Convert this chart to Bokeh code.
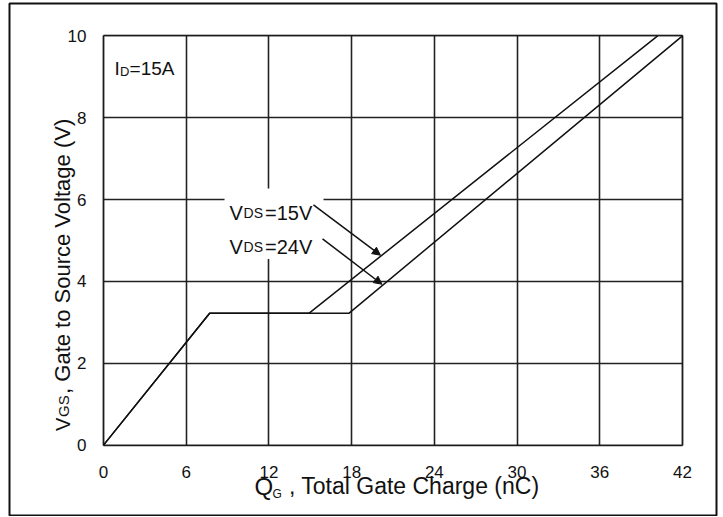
import math
from bokeh.plotting import figure
from bokeh.models import (Label, Arrow, NormalHead, BoxAnnotation, FixedTicker,
                          Range1d, Grid)
from bokeh.embed import file_html
from bokeh.resources import INLINE

# ---- data ----
q_15v = [0, 7.7, 14.9, 40.2]      # nC
vgs_15v = [0, 3.22, 3.22, 10]     # V
q_24v = [0, 7.7, 17.8, 42]        # nC
vgs_24v = [0, 3.22, 3.22, 10]     # V
x_ticks = [0, 6, 12, 18, 24, 30, 36, 42]
y_ticks = [0, 2, 4, 6, 8, 10]
x_lim = (0, 42)
y_lim = (0, 10)

FONT = "Liberation Sans"
INK = "#111111"

# the frame fills the whole picture; its outline is the outer border
p = figure(width=718, height=516, output_backend="svg", toolbar_location=None,
           x_range=Range1d(-6.82, 44.47), y_range=Range1d(-1.72, 10.79),
           min_border_left=9, min_border_right=2,
           min_border_top=3, min_border_bottom=1,
           background_fill_color="white", border_fill_color="white")

p.outline_line_color = INK
p.outline_line_width = 2

for ax in (p.xaxis, p.yaxis):
    ax.axis_line_color = None
    ax.major_tick_line_color = None
    ax.minor_tick_line_color = None
    ax.major_tick_in = 0
    ax.major_tick_out = 0
    ax.major_label_text_font = FONT
    ax.major_label_text_font_size = "17px"
    ax.major_label_text_color = INK
p.xaxis.ticker = FixedTicker(ticks=x_ticks)
p.yaxis.ticker = FixedTicker(ticks=y_ticks)
p.xaxis.fixed_location = y_lim[0]
p.yaxis.fixed_location = x_lim[0]
p.xaxis.bounds = x_lim
p.yaxis.bounds = y_lim
p.xaxis.major_label_standoff = 21
p.yaxis.major_label_standoff = 17

grid_ok = "cross_bounds" in Grid.properties()
if grid_ok:
    p.xgrid.ticker = FixedTicker(ticks=x_ticks)
    p.ygrid.ticker = FixedTicker(ticks=y_ticks)
    p.xgrid.bounds = x_lim
    p.ygrid.bounds = y_lim
    p.xgrid.cross_bounds = y_lim
    p.ygrid.cross_bounds = x_lim
    for g in (p.xgrid, p.ygrid):
        g.grid_line_color = "#222222"
        g.grid_line_width = 1.6
    # white patch behind the V_DS labels (interrupts the grid)
    p.add_layout(BoxAnnotation(left=8.78, right=15.96, bottom=4.55, top=6.27,
                               fill_color="white", fill_alpha=1.0,
                               line_color=None, level="underlay"))
else:
    p.xgrid.visible = False
    p.ygrid.visible = False
    p.segment(x0=x_ticks, y0=[y_lim[0]] * len(x_ticks), x1=x_ticks,
              y1=[y_lim[1]] * len(x_ticks), line_color="#222222", line_width=1.6)
    p.segment(x0=[x_lim[0]] * len(y_ticks), y0=y_ticks,
              x1=[x_lim[1]] * len(y_ticks), y1=y_ticks,
              line_color="#222222", line_width=1.6)
    p.quad(left=[8.78], right=[15.96], bottom=[4.55], top=[6.27],
           fill_color="white", line_color=None)

# plot box border
p.add_layout(BoxAnnotation(left=x_lim[0], right=x_lim[1], bottom=y_lim[0],
                           top=y_lim[1], fill_alpha=0, line_color=INK,
                           line_width=2, level="underlay"))

p.line(q_15v, vgs_15v, line_color=INK, line_width=1.5)
p.line(q_24v, vgs_24v, line_color=INK, line_width=1.5)

# arrows
for xs, ys, xe, ye in [(15.23, 5.87, 20.09, 4.64), (15.89, 5.04, 20.20, 3.93)]:
    p.add_layout(Arrow(x_start=xs, y_start=ys, x_end=xe, y_end=ye,
                       line_color=INK, line_width=1.5,
                       end=NormalHead(size=8, fill_color=INK, line_color=INK)))


def lab(x, y, text, size, angle=0.0):
    p.add_layout(Label(x=x, y=y, text=text, text_font=FONT,
                       text_font_size=f"{size}px", text_color=INK,
                       text_align="left", text_baseline="alphabetic",
                       angle=angle))


# I_D = 15A
lab(0.80, 9.21, "I", 19)
lab(1.20, 9.12, "D", 13)
lab(1.89, 9.21, "=15A", 19)

# V_DS labels
for yb, txt in [(5.68, "=15V"), (4.84, "=24V")]:
    lab(9.14, yb, "V", 20)
    lab(10.16, yb, "DS", 14)
    lab(11.72, yb, txt, 20)

# x-axis title
lab(10.95, -1.007, "Q", 24)
lab(12.26, -1.204, "G", 12)
lab(13.45, -1.007, ", Total Gate Charge (nC)", 23)

# y-axis title (rotated)
lab(-2.974, 0.344, "V", 20, math.pi / 2)
lab(-2.90, 0.688, "GS", 15, math.pi / 2)
lab(-2.974, 1.25, ", Gate to Source Voltage (V)", 22, math.pi / 2)

open("out.html", "w").write(file_html(p, INLINE))
